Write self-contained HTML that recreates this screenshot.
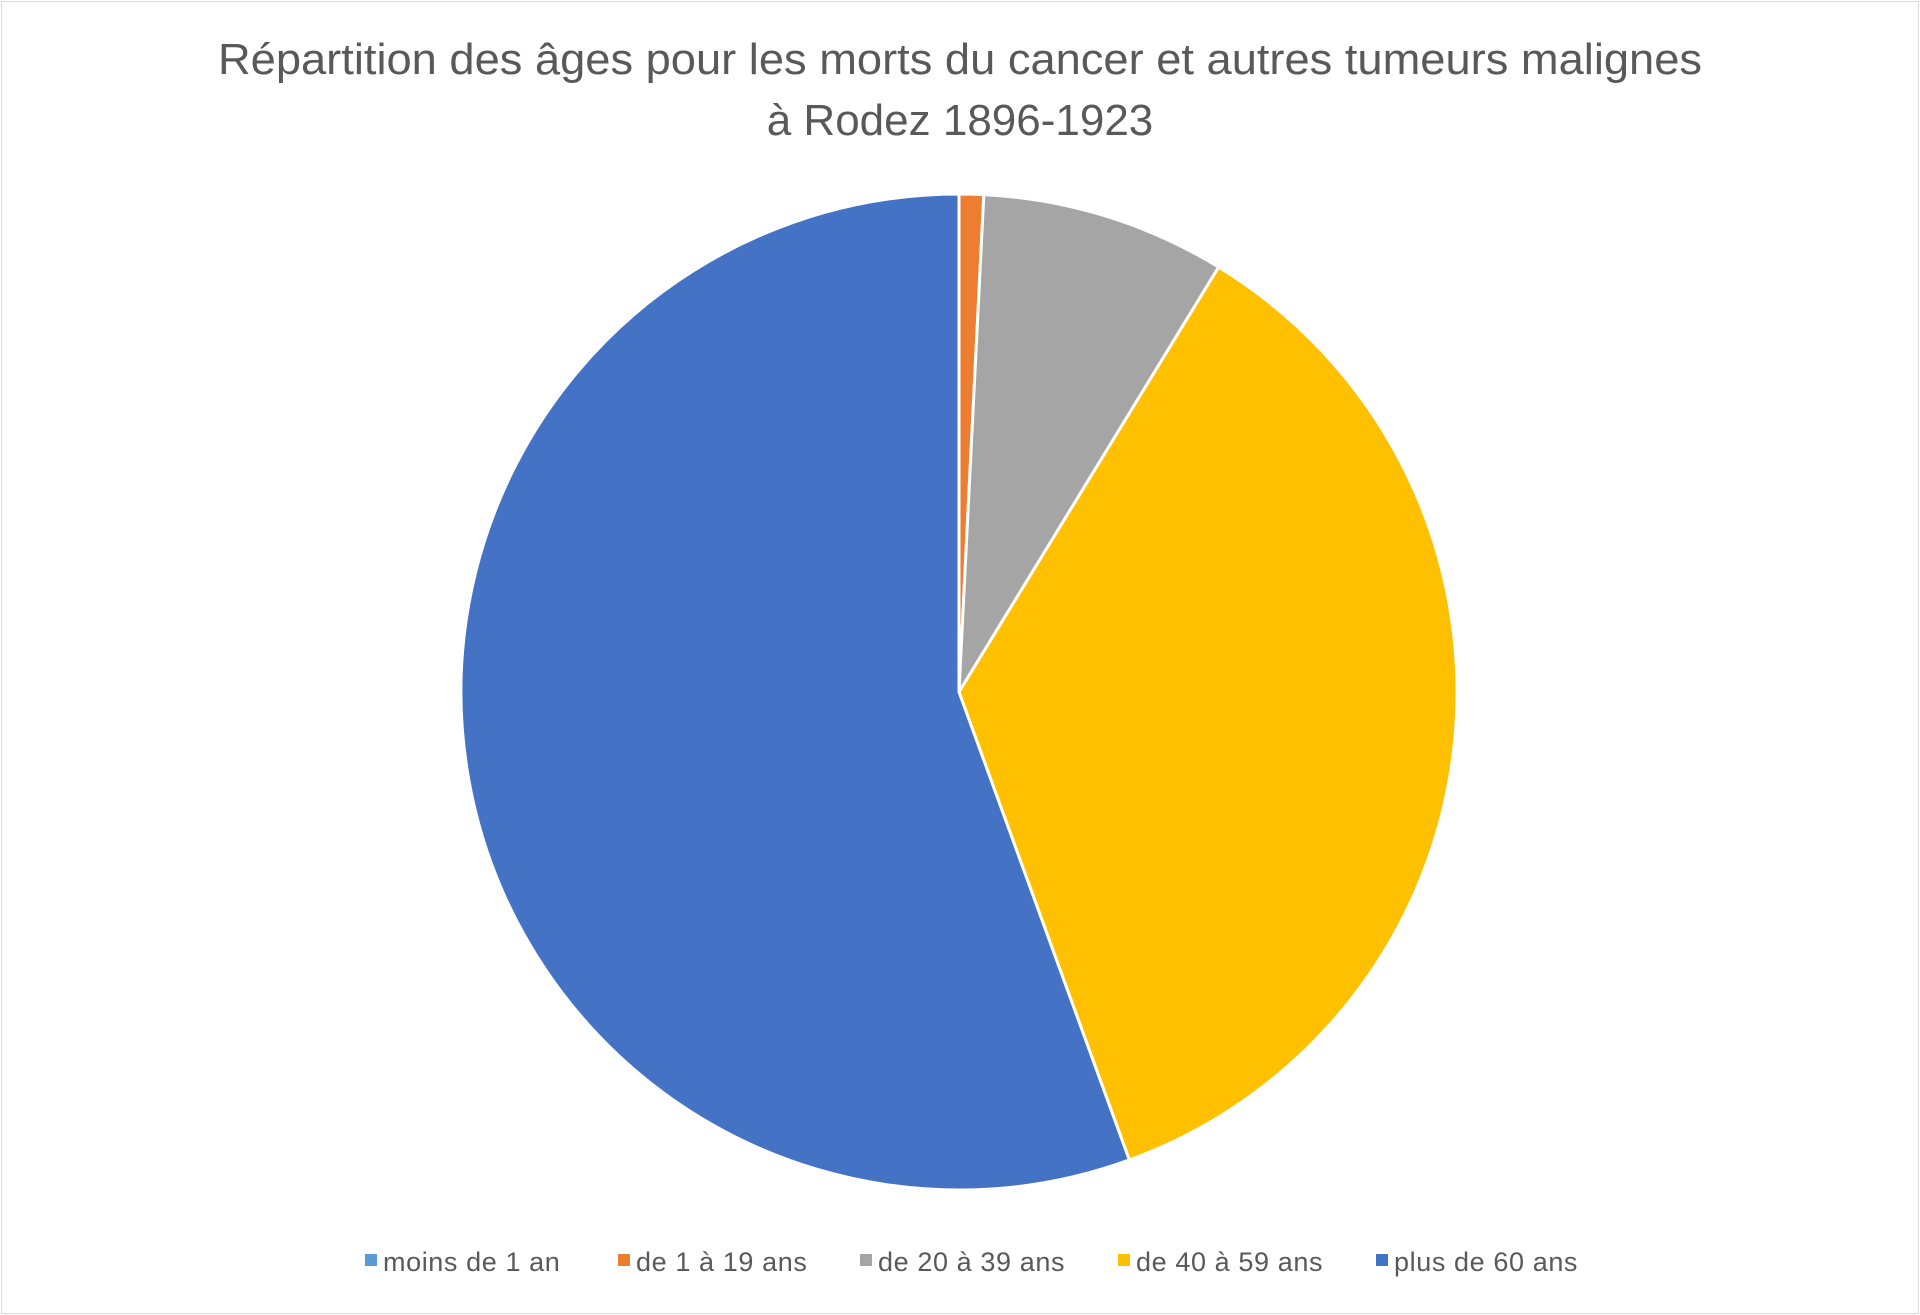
<!DOCTYPE html>
<html><head><meta charset="utf-8"><style>
html,body{margin:0;padding:0;background:#fff;}
body{width:1920px;height:1315px;overflow:hidden;font-family:"Liberation Sans",sans-serif;}
#frame{position:absolute;left:1px;top:1px;width:1916px;height:1311px;border:1px solid #d9d9d9;}
</style></head><body>
<div id="frame"></div>
<svg id="chart" width="1920" height="1315" style="position:absolute;left:0;top:0">
<text x="960" y="74" text-anchor="middle" font-size="44" fill="#595959" font-family="Liberation Sans, sans-serif" textLength="1484" lengthAdjust="spacingAndGlyphs">Répartition des âges pour les morts du cancer et autres tumeurs malignes</text>
<text x="960" y="135" text-anchor="middle" font-size="44" fill="#595959" font-family="Liberation Sans, sans-serif">à Rodez 1896-1923</text>
<g id="slices"></g>
<g id="legend"></g>
</svg>
<script>
const categories = ["moins de 1 an","de 1 à 19 ans","de 20 à 39 ans","de 40 à 59 ans","plus de 60 ans"];
const values = [0,1,10,45,70];
const colors = ["#5b9bd5","#ed7d31","#a5a5a5","#ffc000","#4472c4"];
const legendX = [365,618,860,1118,1376];
const NS="http://www.w3.org/2000/svg";
const cx=959, cy=692, r=498;
const total=values.reduce((a,b)=>a+b,0);
const g=document.getElementById('slices');
let a0=0;
function pt(a){return [cx+r*Math.sin(a), cy-r*Math.cos(a)];}
values.forEach((v,i)=>{
  const a1=a0+v/total*2*Math.PI;
  if(v>0){
    const p=document.createElementNS(NS,'path');
    const [x0,y0]=pt(a0),[x1,y1]=pt(a1);
    const large=(a1-a0)>Math.PI?1:0;
    p.setAttribute('d',`M${cx},${cy} L${x0},${y0} A${r},${r} 0 ${large} 1 ${x1},${y1} Z`);
    p.setAttribute('fill',colors[i]);
    p.setAttribute('stroke','#fff');
    p.setAttribute('stroke-width','3');
    
    
    g.appendChild(p);
  }
  a0=a1;
});
const lg=document.getElementById('legend');
categories.forEach((c,i)=>{
  const e=document.createElementNS(NS,'g');
  
  
  const s=document.createElementNS(NS,'rect');
  s.setAttribute('x',legendX[i]);s.setAttribute('y',1254);
  s.setAttribute('width',12);s.setAttribute('height',12);
  s.setAttribute('fill',colors[i]);
  const t=document.createElementNS(NS,'text');
  t.setAttribute('x',legendX[i]+18);t.setAttribute('y',1271);
  t.setAttribute('font-size','27');t.setAttribute('fill','#595959');
  t.setAttribute('letter-spacing','0.6');
  t.textContent=c;
  e.appendChild(s);e.appendChild(t);lg.appendChild(e);
});
</script>
</body></html>
